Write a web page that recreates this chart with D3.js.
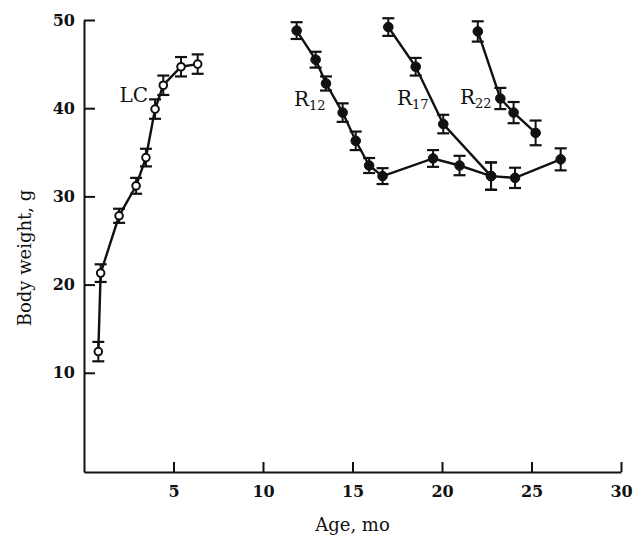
<html>
<head>
  <title>body weight</title>
  <script src="https://d3js.org/d3.v7.min.js"></script>
  <style>
    body { margin: 0; background: #fff; }
    .axis text { font-family: "DejaVu Serif", serif; font-size: 16px; font-weight: bold; fill: #111; }
    .axis path, .axis line { stroke: #111; stroke-width: 2px; }
    .lbl { font-family: "DejaVu Serif", serif; fill: #111; }
  </style>
</head>
<body>
<div id="chart"></div>
<script>
  // LC group (open circles)
  var lcAge    = [0.8, 0.93, 1.96, 2.91, 3.46, 3.97, 4.43, 5.42, 6.35];
  var lcWeight = [12.4, 21.3, 27.8, 31.2, 34.4, 39.9, 42.6, 44.7, 45.0];
  var lcErr    = [1.1, 1.0, 0.8, 0.9, 1.0, 1.1, 1.1, 1.1, 1.1];

  // restricted at 12 mo
  var r12Age    = [11.88, 12.94, 13.52, 14.45, 15.18, 15.93, 16.68, 19.5, 20.98, 22.74, 24.08, 26.63];
  var r12Weight = [48.8, 45.5, 42.8, 39.5, 36.3, 33.5, 32.3, 34.3, 33.5, 32.3, 32.1, 34.2];
  var r12Err    = [0.95, 0.9, 0.8, 1.05, 1.05, 0.85, 0.9, 0.95, 1.1, 1.55, 1.15, 1.25];

  // restricted at 17 mo
  var r17Age    = [17.0, 18.53, 20.07, 22.74];
  var r17Weight = [49.2, 44.7, 38.2, 32.3];
  var r17Err    = [1.0, 1.0, 1.05, 1.55];

  // restricted at 22 mo
  var r22Age    = [22.0, 23.26, 24.0, 25.23];
  var r22Weight = [48.7, 41.1, 39.5, 37.2];
  var r22Err    = [1.15, 1.2, 1.2, 1.4];

  var xTicks = [5, 10, 15, 20, 25, 30];
  var yTicks = [10, 20, 30, 40, 50];

  var W = 636, H = 537;
  var svg = d3.select("#chart").append("svg").attr("width", W).attr("height", H);

  var x = d3.scaleLinear().domain([0, 30]).range([84, 621]);
  var y = d3.scaleLinear().domain([-1.25, 50]).range([472, 20]);

  svg.append("g").attr("class", "axis")
    .attr("transform", "translate(0,472)")
    .call(d3.axisBottom(x).tickValues(xTicks).tickSizeInner(-10).tickSizeOuter(0).tickPadding(14));

  svg.append("g").attr("class", "axis")
    .attr("transform", "translate(84,0)")
    .call(d3.axisLeft(y).tickValues(yTicks).tickSizeInner(-11).tickSizeOuter(0).tickPadding(9));

  function zip(a, w, e) {
    return a.map(function (d, i) { return { x: d, y: w[i], e: e[i] }; });
  }

  var line = d3.line().x(function (d) { return x(d.x); }).y(function (d) { return y(d.y); });

  function series(pts, open) {
    var g = svg.append("g");
    g.append("path").attr("d", line(pts))
      .attr("fill", "none").attr("stroke", "#111").attr("stroke-width", 2.4);
    pts.forEach(function (d) {
      var cx = x(d.x);
      g.append("line").attr("x1", cx).attr("x2", cx)
        .attr("y1", y(d.y + d.e)).attr("y2", y(d.y - d.e))
        .attr("stroke", "#111").attr("stroke-width", 2);
      [d.y + d.e, d.y - d.e].forEach(function (v) {
        g.append("line").attr("x1", cx - 6).attr("x2", cx + 6)
          .attr("y1", y(v)).attr("y2", y(v))
          .attr("stroke", "#111").attr("stroke-width", 2.2);
      });
      g.append("circle").attr("cx", cx).attr("cy", y(d.y)).attr("r", open ? 3.8 : 4.8)
        .attr("fill", open ? "#fff" : "#111")
        .attr("stroke", "#111").attr("stroke-width", open ? 2 : 1);
    });
  }

  series(zip(r12Age, r12Weight, r12Err), false);
  series(zip(r17Age, r17Weight, r17Err), false);
  series(zip(r22Age, r22Weight, r22Err), false);
  series(zip(lcAge, lcWeight, lcErr), true);

  // series labels
  svg.append("text").attr("class", "lbl").attr("x", 148).attr("y", 102)
    .attr("text-anchor", "end").attr("font-size", 20).text("LC");

  function rLabel(px, py, sub) {
    var t = svg.append("text").attr("class", "lbl").attr("x", px).attr("y", py).attr("font-size", 20);
    t.append("tspan").text("R");
    t.append("tspan").attr("font-size", 13).attr("dy", 4).text(sub);
  }
  rLabel(294, 106, "12");
  rLabel(397, 105, "17");
  rLabel(460, 104, "22");

  // axis titles
  svg.append("text").attr("class", "lbl")
    .attr("transform", "translate(31,258) rotate(-90)")
    .attr("text-anchor", "middle").attr("font-size", 18).text("Body weight, g");

  svg.append("text").attr("class", "lbl")
    .attr("x", x(15)).attr("y", 531)
    .attr("text-anchor", "middle").attr("font-size", 18).text("Age, mo");
</script>
</body>
</html>
